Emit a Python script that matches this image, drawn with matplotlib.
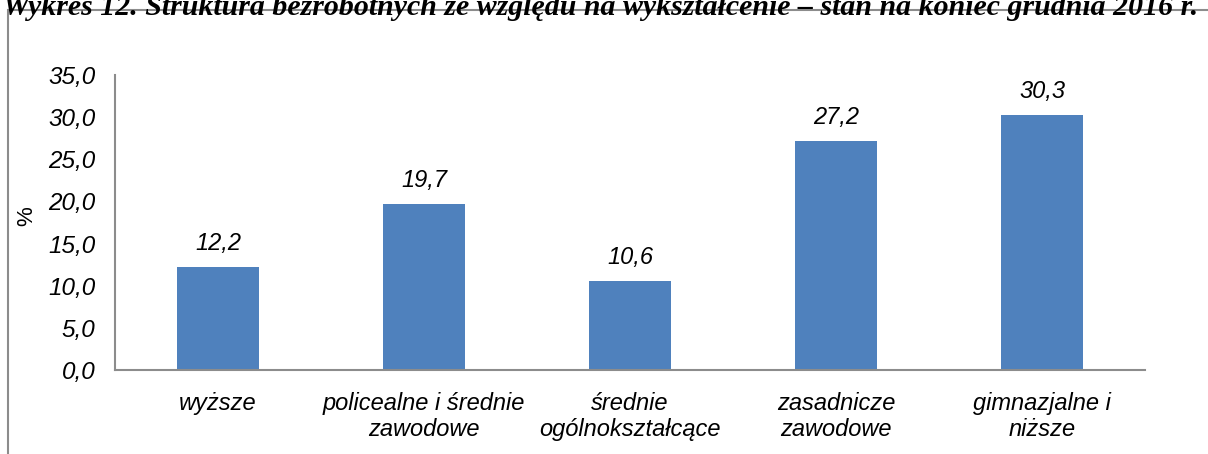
import matplotlib
matplotlib.use("Agg")
import matplotlib.pyplot as plt
from matplotlib.patches import Rectangle

categories = ["wyższe", "policealne i średnie\nzawodowe", "średnie\nogólnokształcące",
              "zasadnicze\nzawodowe", "gimnazjalne i\nniższe"]
values = [12.2, 19.7, 10.6, 27.2, 30.3]
yticks = [0, 5, 10, 15, 20, 25, 30, 35]
title = "Wykres 12. Struktura bezrobotnych ze względu na wykształcenie – stan na koniec grudnia 2016 r."

W, H = 1208, 454
fig = plt.figure(figsize=(W / 100, H / 100), dpi=100)

# ramka wokół wykresu (wychodzi poza kadr z prawej i u dołu)
fig.patches.append(Rectangle((8 / W, -0.1), 1.2, 1 - 10 / H + 0.1, transform=fig.transFigure,
                             fill=False, edgecolor="#8c8c8c", linewidth=1.5))

# tytuł częściowo ucięty u góry
fig.text(0.497, 1 - 15 / H, title, ha="center", va="baseline", fontsize=21.5,
         family="Liberation Serif", fontweight="bold", fontstyle="italic")

ax = fig.add_axes([115 / W, 1 - 370 / H, (1145 - 115) / W, (370 - 75) / H])
x = range(len(categories))
ax.bar(x, values, width=0.4, color="#4F81BD")
for xi, v in zip(x, values):
    ax.text(xi, v + 1.4, f"{v:.1f}".replace(".", ","), ha="center", va="bottom",
            fontsize=17, family="Liberation Sans", fontstyle="italic")

ax.set_xlim(-0.5, len(categories) - 0.5)
ax.set_ylim(0, 35)
ax.set_yticks(yticks)
ax.set_yticklabels([f"{t:.1f}".replace(".", ",") for t in yticks],
                   fontsize=17.5, family="Liberation Sans", fontstyle="italic")
ax.set_xticks(list(x))
ax.set_xticklabels(categories, fontsize=17, family="Liberation Sans", fontstyle="italic",
                   linespacing=1.15)
ax.tick_params(axis="x", length=0, pad=16)
ax.tick_params(axis="y", length=0, pad=14)
ax.set_ylabel("%", fontsize=16, family="Liberation Sans")
ax.yaxis.set_label_coords(-78 / (1145 - 115), 0.52)

for s in ["top", "right"]:
    ax.spines[s].set_visible(False)
for s in ["left", "bottom"]:
    ax.spines[s].set_color("#8c8c8c")
    ax.spines[s].set_linewidth(1.5)

fig.savefig("out.png", dpi=100)
